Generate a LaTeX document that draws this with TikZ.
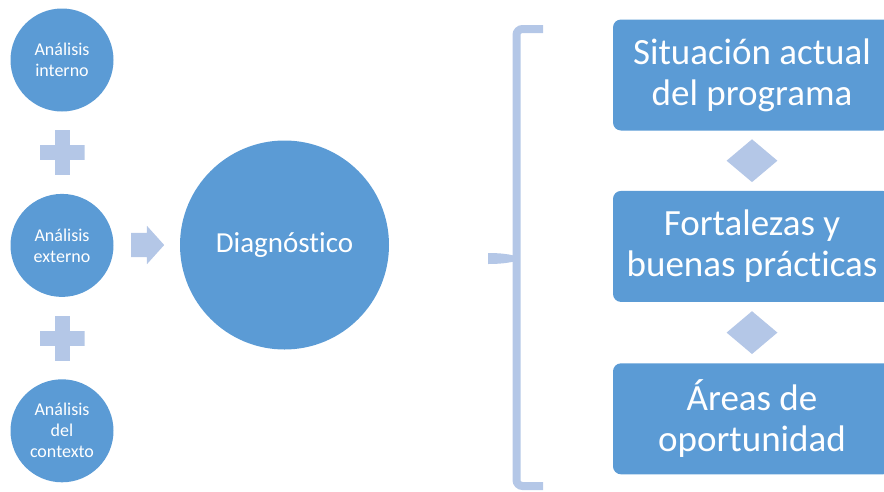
\documentclass[tikz,border=0pt]{standalone}
\usepackage{fontspec}
\setmainfont{Carlito}[Ligatures=NoCommon]
\usetikzlibrary{shapes.geometric, shapes.arrows, positioning, calc}
\definecolor{officeblue}{RGB}{91,155,213}
\definecolor{softblue}{RGB}{180,199,231}

\begin{document}
\begin{tikzpicture}[
                x=1pt, y=-1pt,
                analysis/.style={circle, fill=officeblue, text=white, minimum size=103pt, inner sep=0pt, align=center, font=\fontsize{18}{21}\selectfont},
                diag/.style={circle, fill=officeblue, text=white, minimum size=209pt, inner sep=0pt, font=\fontsize{29}{35}\selectfont},
                result/.style={rectangle, fill=officeblue, text=white, rounded corners=8pt, minimum width=278pt, minimum height=111pt, inner sep=0pt, align=center, font=\fontsize{37}{41}\selectfont},
                plussign/.style={minimum size=45pt, inner sep=0pt, path picture={
                    \fill[softblue] ([xshift=-7.5pt]path picture bounding box.north) rectangle ([xshift=7.5pt]path picture bounding box.south);
                    \fill[softblue] ([yshift=7.5pt]path picture bounding box.west) rectangle ([yshift=-7.5pt]path picture bounding box.east);}},
                link/.style={diamond, fill=softblue, minimum width=51pt, minimum height=43pt, inner sep=0pt}
            ]
                \useasboundingbox (0,0) rectangle (884,491);
                \clip (0,0) rectangle (884,491);

                % left column
                \node[analysis] (interno) at (62,60) {Análisis\\interno};
                \node[analysis, below=82pt of interno] (externo) {Análisis\\externo};
                \node[analysis, below=82pt of externo] (contexto) {Análisis\\del\\contexto};
                \node[plussign] (plusA) at ($(interno)!0.5!(externo)$) {};
                \node[plussign] (plusB) at ($(externo)!0.5!(contexto)$) {};

                % diagnosis
                \node[diag] (diagnostico) at (284.5,245) {Diagnóstico};
                \node[single arrow, fill=softblue, minimum height=33pt, single arrow head extend=7pt, single arrow tip angle=96, inner xsep=0pt, inner ysep=12pt, anchor=west] (flecha) at (131,245) {};

                % bracket
                \draw[softblue, line width=8pt, rounded corners=6pt] (543,29) -- (516.5,29) -- (516.5,486) -- (543,486);
                \fill[softblue] (488,253) .. controls (500,253) and (508,254) .. (516,256) -- (516,261)
                    .. controls (508,263) and (500,264) .. (488,264) -- cycle;

                % results
                \node[result] (situacion) at (752,75) {Situación actual\\del programa};
                \node[result, below=60pt of situacion] (fortalezas) {Fortalezas y\\buenas prácticas};
                \node[result, below=61pt of fortalezas] (areas) {Áreas de\\oportunidad};
                \node[link] (rombo1) at ($(situacion.south)!0.5!(fortalezas.north)$) {};
                \node[link] (rombo2) at ($(fortalezas.south)!0.5!(areas.north)$) {};
            \end{tikzpicture}
\end{document}
